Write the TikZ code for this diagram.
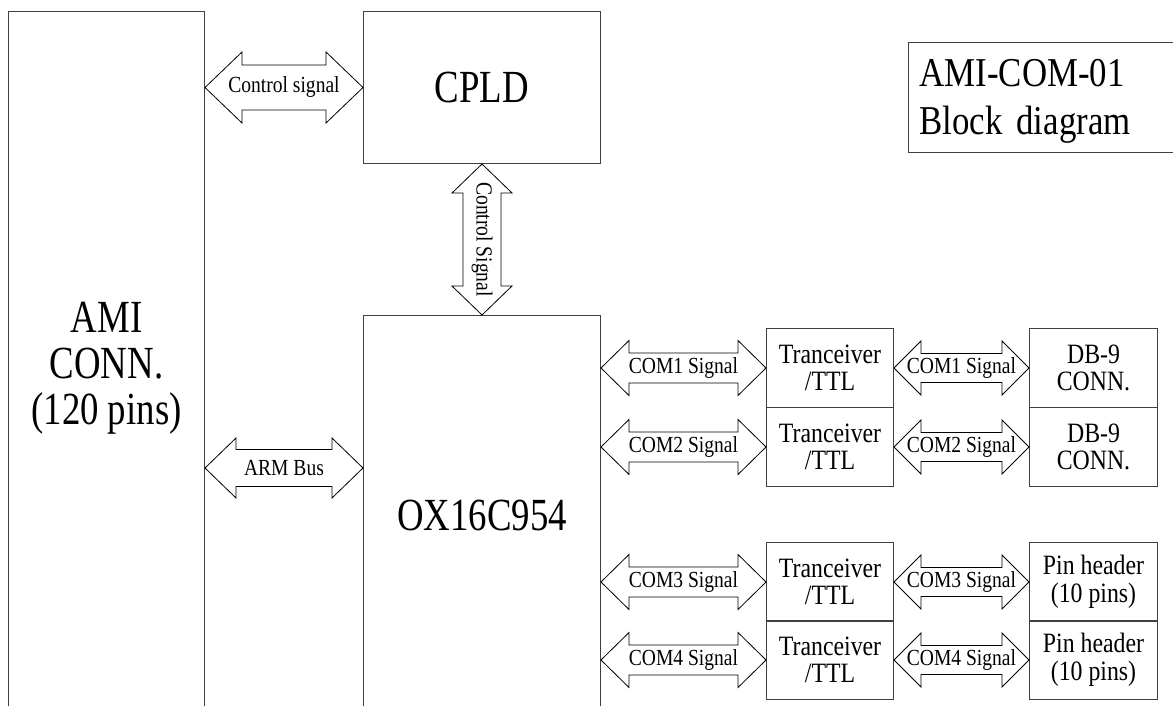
\documentclass[tikz,border=0pt]{standalone}
\usepackage{fontspec}
\setmainfont{Liberation Serif}[FakeStretch=0.85]
\newfontfamily\blockfont{Liberation Serif}[FakeStretch=0.8]
\usetikzlibrary{calc}

% double headed bus arrow between two points
% #1 label options, #2 name, #3 from, #4 to, #5 label, #6 head/shaft/length
\newcommand{\busarrow}[6][]{%
  \foreach \hw/\sw/\hl in {#6} {
    \draw[busline] let \p1=($(#4)-(#3)$), \n1={atan2(\y1,\x1)} in
      (#3) -- ($(#3)+(\n1:\hl pt)+(\n1+90:\hw pt)$) -- ($(#3)+(\n1:\hl pt)+(\n1+90:\sw pt)$)
      -- ($(#4)+(\n1+180:\hl pt)+(\n1+90:\sw pt)$) -- ($(#4)+(\n1+180:\hl pt)+(\n1+90:\hw pt)$)
      -- (#4) -- ($(#4)+(\n1+180:\hl pt)+(\n1-90:\hw pt)$) -- ($(#4)+(\n1+180:\hl pt)+(\n1-90:\sw pt)$)
      -- ($(#3)+(\n1:\hl pt)+(\n1-90:\sw pt)$) -- ($(#3)+(\n1:\hl pt)+(\n1-90:\hw pt)$) -- cycle;
  }
  \node[buslabel,#1] (#2) at ($(#3)!0.5!(#4)$) {#5};
}

\begin{document}
\begin{tikzpicture}[x=1pt,y=-1pt,
    box/.style={draw=black!75,line width=1pt,inner sep=0pt,anchor=north west},
    busline/.style={draw=black,line width=0.8pt,fill=white,line join=miter},
    buslabel/.style={font=\fontsize{23}{25}\selectfont,inner sep=0pt},
    small/.style={font=\fontsize{28}{27.5}\selectfont,align=center},
    big/.style={font=\blockfont\fontsize{46}{46}\selectfont,align=center}]
  \useasboundingbox (0,0) rectangle (1173,706);
  \clip (0,0) rectangle (1173,706);

  % main blocks
  \node[box,big,minimum width=196,minimum height=714] (ami) at (8,11) {AMI\\CONN.\\(120 pins)};
  \node[box,big,minimum width=237,minimum height=152] (cpld) at (363,11) {CPLD};
  \node[box,big,minimum width=237,minimum height=400] (ox) at (363,315) {OX16C954};

  % title
  \node[box,align=left,minimum width=272,minimum height=110,text width=250,inner xsep=11,
        font=\fontsize{41}{48}\selectfont] (title) at (908,42) {\rule{0pt}{34pt}AMI-COM-01\\Block diagram};

  % buses to the AMI connector
  \coordinate (arm) at (0,468);
  \busarrow{ctl}{ami.east |- cpld.west}{cpld.west}{Control signal}{35.5/22.5/37}
  \busarrow{armbus}{ami.east |- arm}{ox.west |- arm}{ARM Bus}{30/18.5/31}
  \busarrow[rotate=-90]{ctl2}{cpld.south}{ox.north}{Control Signal}{30/19/29}

  % serial ports
  \foreach \i/\y/\conn in {1/328/{DB-9\\CONN.},2/407/{DB-9\\CONN.},
                           3/542/{Pin header\\(10 pins)},4/620/{Pin header\\(10 pins)}} {
    \node[box,small,minimum width=127,minimum height=79] (tr\i) at (766,\y) {Tranceiver\\/TTL};
    \node[box,small,minimum width=128,minimum height=79] (cn\i) at (1029,\y) {\conn};
    \busarrow{coma\i}{ox.east |- tr\i.west}{tr\i.west}{COM\i{} Signal}{27.5/15/28}
    \busarrow{comb\i}{tr\i.east}{cn\i.west}{COM\i{} Signal}{27/14.5/27}
  }
\end{tikzpicture}
\end{document}
